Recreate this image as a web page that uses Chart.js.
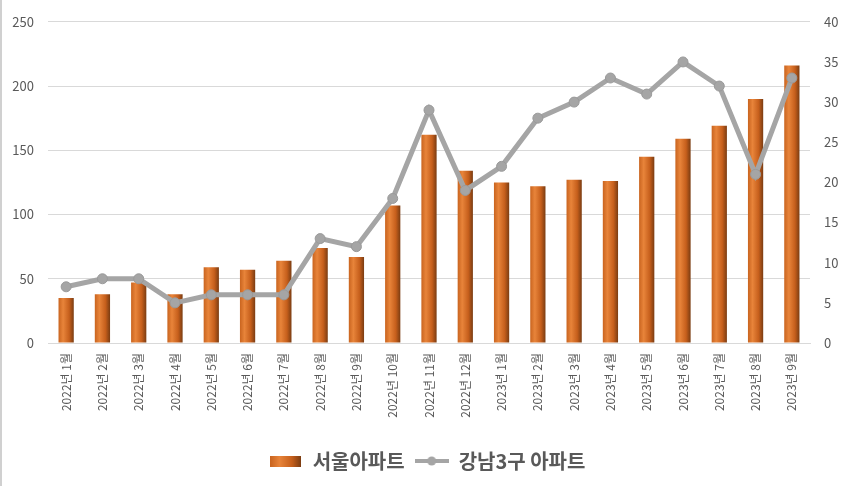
<!DOCTYPE html>
<html>
<head>
<meta charset="utf-8">
<script src="https://cdn.jsdelivr.net/npm/chart.js@4"></script>
<style>
  html, body { margin: 0; padding: 0; background: #fff; }
  #wrap { width: 850px; height: 486px; position: relative; box-sizing: border-box; border-left: 2px solid #d0d0d0; }
</style>
</head>
<body>
<div id="wrap"><canvas id="chart"></canvas></div>
<script>
// 월별 라벨
const labels = [
  '2022년 1월', '2022년 2월', '2022년 3월', '2022년 4월', '2022년 5월', '2022년 6월',
  '2022년 7월', '2022년 8월', '2022년 9월', '2022년 10월', '2022년 11월', '2022년 12월',
  '2023년 1월', '2023년 2월', '2023년 3월', '2023년 4월', '2023년 5월', '2023년 6월',
  '2023년 7월', '2023년 8월', '2023년 9월'
];

// 서울아파트 (왼쪽 축)
const seoulValues = [35, 38, 47, 38, 59, 57, 64, 74, 67, 107, 162, 134, 125, 122, 127, 126, 145, 159, 169, 190, 216];

// 강남3구 아파트 (오른쪽 축)
const gangnamValues = [7, 8, 8, 5, 6, 6, 6, 13, 12, 18, 29, 19, 22, 28, 30, 33, 31, 35, 32, 21, 33];

const leftTicks = [0, 50, 100, 150, 200, 250];
const rightTicks = [0, 5, 10, 15, 20, 25, 30, 35, 40];

const BAR_PCT = 0.42;
const LINE_COLOR = '#a5a5a5';
const FONT = '"Noto Sans CJK KR", "Noto Sans", sans-serif';

function barGradient(c, x0, x1) {
    const g = c.createLinearGradient(x0, 0, x1, 0);
    g.addColorStop(0, '#c9641f');
    g.addColorStop(0.3, '#e8843a');
    g.addColorStop(0.7, '#c65f1c');
    g.addColorStop(1, '#7a3c12');
    return g;
}

// 범례용 아이콘
const barIcon = document.createElement('canvas');
barIcon.width = 31; barIcon.height = 11;
(function () {
    const c = barIcon.getContext('2d');
    c.fillStyle = barGradient(c, 0, 31);
    c.fillRect(0, 0, 31, 11);
})();

const lineIcon = document.createElement('canvas');
lineIcon.width = 34; lineIcon.height = 12;
(function () {
    const c = lineIcon.getContext('2d');
    c.strokeStyle = LINE_COLOR;
    c.lineWidth = 4;
    c.beginPath(); c.moveTo(0, 6); c.lineTo(34, 6); c.stroke();
    c.fillStyle = LINE_COLOR;
    c.beginPath(); c.arc(17, 6, 4.5, 0, Math.PI * 2); c.fill();
})();

const ctx = document.getElementById('chart').getContext('2d');
new Chart(ctx, {
    data: {
        labels: labels,
        datasets: [{
            type: 'bar',
            label: '서울아파트',
            data: seoulValues,
            yAxisID: 'y',
            order: 2,
            barPercentage: BAR_PCT,
            categoryPercentage: 1,
            backgroundColor: (context) => {
                const chart = context.chart;
                const area = chart.chartArea;
                if (!area || context.dataIndex === undefined) return '#d0691f';
                const x = chart.scales.x.getPixelForValue(context.dataIndex);
                const w = (area.right - area.left) / labels.length * BAR_PCT;
                return barGradient(chart.ctx, x - w / 2, x + w / 2);
            }
        }, {
            type: 'line',
            label: '강남3구 아파트',
            data: gangnamValues,
            yAxisID: 'y1',
            order: 1,
            borderColor: LINE_COLOR,
            backgroundColor: LINE_COLOR,
            borderWidth: 5,
            pointRadius: 5,
            pointBackgroundColor: LINE_COLOR,
            pointBorderColor: '#9a9a9a',
            pointBorderWidth: 1,
            tension: 0
        }]
    },
    options: {
        responsive: true,
        maintainAspectRatio: false,
        animation: false,
        layout: { padding: { left: 10, right: 8, top: 0, bottom: 5 } },
        plugins: {
            tooltip: { enabled: false },
            legend: {
                position: 'bottom',
                labels: {
                    usePointStyle: true,
                    pointStyleWidth: 34,
                    boxWidth: 34,
                    padding: 10,
                    color: '#595959',
                    font: { family: FONT, size: 20, weight: 'bold' },
                    generateLabels: () => [
                        { text: '서울아파트', pointStyle: barIcon, datasetIndex: 0, fontColor: '#595959', lineWidth: 0 },
                        { text: '강남3구 아파트', pointStyle: lineIcon, datasetIndex: 1, fontColor: '#595959', lineWidth: 0 }
                    ]
                }
            }
        },
        scales: {
            x: {
                afterFit: (axis) => { axis.height = 98; },
                grid: { display: false, drawTicks: false },
                border: { display: true, color: '#d9d9d9', width: 1 },
                ticks: {
                    minRotation: 90,
                    maxRotation: 90,
                    autoSkip: false,
                    padding: 10,
                    color: '#595959',
                    font: { family: FONT, size: 12 }
                }
            },
            y: {
                position: 'left',
                min: 0,
                max: 250,
                afterBuildTicks: (axis) => { axis.ticks = leftTicks.map(v => ({ value: v })); },
                afterFit: (axis) => { axis.width = 36; },
                grid: { color: '#d9d9d9', drawTicks: false },
                border: { display: false },
                ticks: {
                    padding: 14,
                    color: '#595959',
                    font: { family: FONT, size: 13 }
                }
            },
            y1: {
                position: 'right',
                min: 0,
                max: 40,
                afterBuildTicks: (axis) => { axis.ticks = rightTicks.map(v => ({ value: v })); },
                afterFit: (axis) => { axis.width = 32; },
                grid: { display: false, drawTicks: false },
                border: { display: false },
                ticks: {
                    padding: 14,
                    color: '#595959',
                    font: { family: FONT, size: 13 }
                }
            }
        }
    }
});
</script>
</body>
</html>
